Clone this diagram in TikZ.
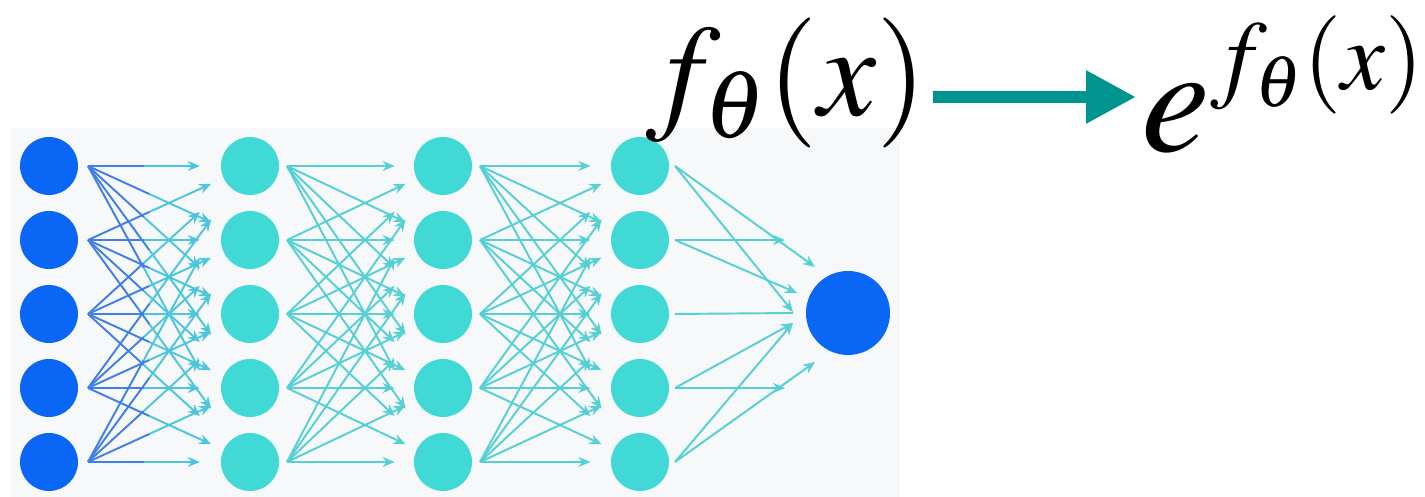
\documentclass[tikz,border=0pt]{standalone}
\usepackage{mathptmx}
\usepackage{tikz}
\usetikzlibrary{positioning,arrows.meta,calc}
\definecolor{netblue}{HTML}{0A66F5}
\definecolor{netcyan}{HTML}{40D9D6}
\definecolor{edgeblue}{HTML}{3F7FE6}
\definecolor{edgecyan}{HTML}{4CC6DC}
\definecolor{edgeteal}{HTML}{55D0D4}
\definecolor{arrowteal}{HTML}{00948F}
\definecolor{panel}{HTML}{F7F8F9}

\begin{document}
\begin{tikzpicture}[
  unit/.style={circle, fill=netblue, inner sep=0pt, minimum size=5.8mm},
  hid/.style={unit, fill=netcyan},
  outunit/.style={unit, minimum size=8.4mm},
  lnA/.style={edgeblue, line width=0.55pt},
  lnB/.style={edgecyan, line width=0.55pt, -{Stealth[length=1.2mm,width=1mm]}},
  lnC/.style={edgeteal, line width=0.55pt, -{Stealth[length=1.2mm,width=1mm]}},
  lnCn/.style={edgeteal, line width=0.55pt},
  eq/.style={inner sep=1.5pt, font=\fontsize{37}{44}\selectfont},
  bigarr/.style={arrowteal, line width=3.4pt, -{Triangle[length=5mm,width=5mm]}}]
\useasboundingbox (0,0) rectangle (14.25,-4.97);
\fill[panel] (0.10,-1.28) rectangle (9.00,-4.97);
\foreach \l/\s/\x in {a/unit/0.49, b/hid/2.50, c/hid/4.43, d/hid/6.40}
  \foreach \y [count=\i from 0] in {1.66,2.40,3.14,3.88,4.62}
    \node[\s] (\l\i) at (\x,-\y) {};
\node[outunit] (o) at (8.48,-3.13) {};
% input layer, blue fading to cyan
\foreach \i in {0,...,4}
  \foreach \j in {0,...,4} {
    \pgfmathsetmacro\f{0.69+0.07*mod(\i+\j,2)}
    \pgfmathsetmacro\h{\f/2}
    \draw[lnA] ($(a\i.center)+(0.39,0)$) -- ($($(a\i.center)+(0.39,0)$)!\h!(b\j.center)$);
    \draw[lnB] ($($(a\i.center)+(0.39,0)$)!\h!(b\j.center)$) -- ($($(a\i.center)+(0.39,0)$)!\f!(b\j.center)$);
  }
% hidden layers
\foreach \s/\t in {b/c, c/d}
  \foreach \i in {0,...,4}
    \foreach \j in {0,...,4} {
      \pgfmathsetmacro\f{0.69+0.07*mod(\i+\j,2)}
      \draw[lnC] ($(\s\i.center)+(0.37,0)$) -- ($($(\s\i.center)+(0.37,0)$)!\f!(\t\j.center)$);
    }
% last layer into output
\foreach \n/\dx/\dy/\st in {d0/-0.33/0.46/lnC, d0/-0.55/0.01/lnC, d1/-0.63/0.73/lnC, d1/-0.51/0.20/lnC,
   d2/-0.55/0/lnCn, d3/-0.55/-0.10/lnC, d3/-0.63/-0.75/lnC, d4/-0.55/-0.10/lnC, d4/-0.33/-0.49/lnC}
  \draw[\st] ($(\n.center)+(0.35,0)$) -- ($(o.center)+(\dx,\dy)$);
% formula
\node[eq, anchor=base west] (fx) at (6.40,-1.16) {$f_\theta(x)$};
\node[eq, anchor=base west] (efx) at (11.36,-1.52)
  {{\fontsize{44}{52}\selectfont$e$}\raisebox{0.62cm}{\fontsize{28}{34}\selectfont$f_\theta(x)$}};
\coordinate (lvl) at (0,-0.97);
\draw[bigarr] (fx.east |- lvl) -- (efx.west |- lvl);
\end{tikzpicture}
\end{document}
